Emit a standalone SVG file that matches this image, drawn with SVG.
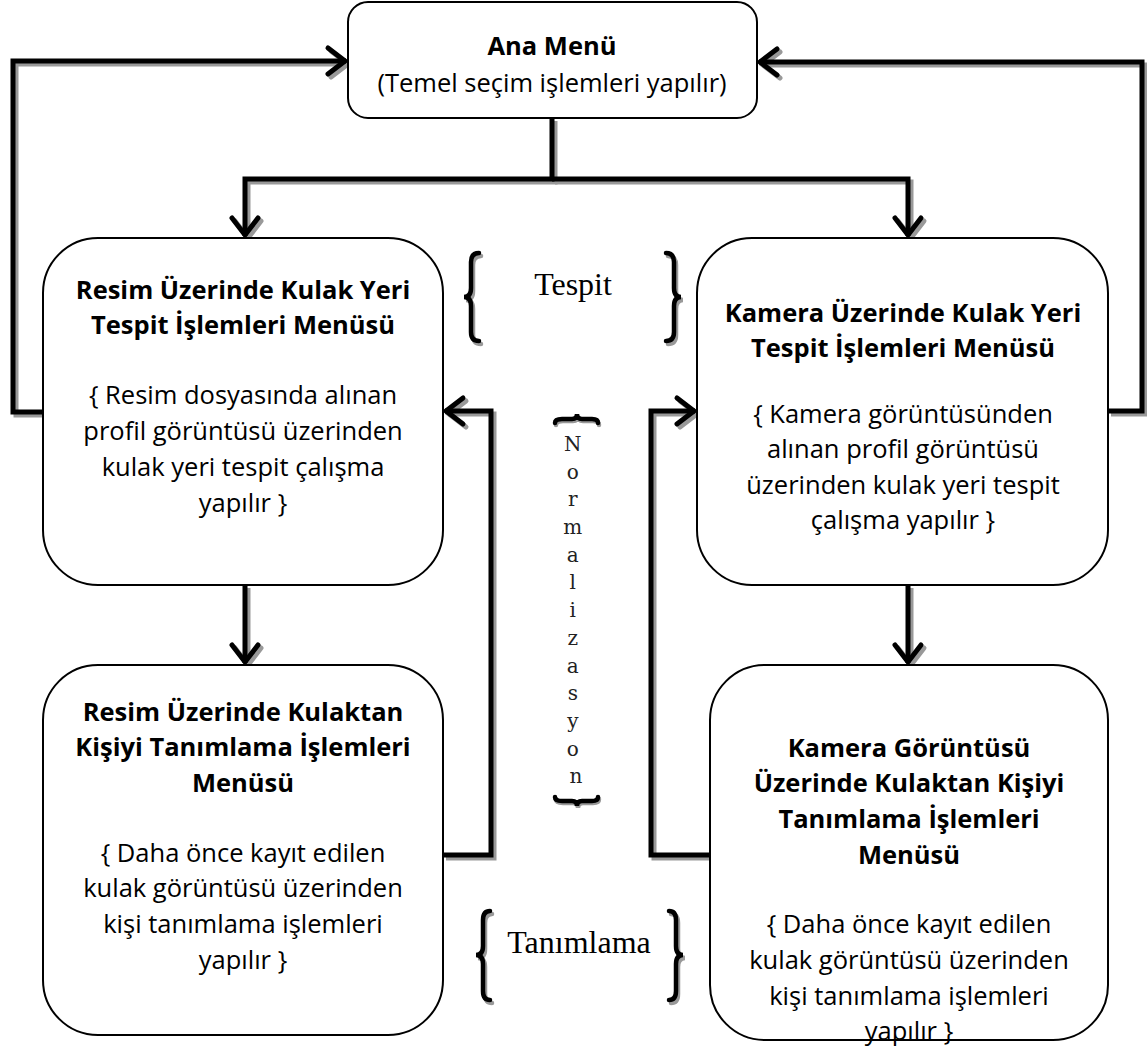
<svg xmlns="http://www.w3.org/2000/svg" width="1147" height="1050" viewBox="0 0 1147 1050">
<style>
.box{fill:#fff;stroke:#000;stroke-width:2}
.t{font-family:"Open Sans","Liberation Sans",sans-serif;font-size:25.5px;fill:#000;text-anchor:middle}
.b{font-weight:bold}
.c{fill:none;stroke:#000;stroke-width:5;stroke-linejoin:miter}
.cs{fill:none;stroke:#999;stroke-width:5;stroke-linejoin:miter}
.br{fill:none;stroke:#000;stroke-width:4.5;stroke-linecap:round}
.brs{fill:none;stroke:#999;stroke-width:4.5;stroke-linecap:round}
.ser{font-family:"Liberation Serif",serif;font-size:32px;fill:#000;text-anchor:middle}
.mono{font-family:"DejaVu Serif","Liberation Serif",serif;font-size:20px;fill:#222;text-anchor:middle}
</style>
<defs>
<marker id="a" markerUnits="userSpaceOnUse" markerWidth="40" markerHeight="40" viewBox="-25 -20 30 40" refX="0" refY="0" orient="auto">
<path d="M-18,-13 L-1,0 L-18,13" fill="none" stroke="#000" stroke-width="5" stroke-linecap="round"/>
</marker>
<marker id="as" markerUnits="userSpaceOnUse" markerWidth="40" markerHeight="40" viewBox="-25 -20 30 40" refX="0" refY="0" orient="auto">
<path d="M-18,-13 L-1,0 L-18,13" fill="none" stroke="#999" stroke-width="5" stroke-linecap="round"/>
</marker>
</defs>
<rect width="1147" height="1050" fill="#fff"/>

<g id="connectors">
<g transform="translate(3,3)">
<path class="cs" d="M552,118 V179 H245 V236" marker-end="url(#as)"/>
<path class="cs" d="M552,179 H908 V236" marker-end="url(#as)"/>
<path class="cs" d="M43,412 H13 V61 H346" marker-end="url(#as)"/>
<path class="cs" d="M1108,411 H1142 V62 H759" marker-end="url(#as)"/>
<path class="cs" d="M245,585 V663" marker-end="url(#as)"/>
<path class="cs" d="M908,585 V663" marker-end="url(#as)"/>
<path class="cs" d="M443,855 H491 V411 H445" marker-end="url(#as)"/>
<path class="cs" d="M710,855 H651 V411 H695" marker-end="url(#as)"/>
</g>
<path class="c" d="M552,118 V179 H245 V236" marker-end="url(#a)"/>
<path class="c" d="M552,179 H908 V236" marker-end="url(#a)"/>
<path class="c" d="M43,412 H13 V61 H346" marker-end="url(#a)"/>
<path class="c" d="M1108,411 H1142 V62 H759" marker-end="url(#a)"/>
<path class="c" d="M245,585 V663" marker-end="url(#a)"/>
<path class="c" d="M908,585 V663" marker-end="url(#a)"/>
<path class="c" d="M443,855 H491 V411 H445" marker-end="url(#a)"/>
<path class="c" d="M710,855 H651 V411 H695" marker-end="url(#a)"/>
</g>

<g id="ana-menu">
<rect class="box" x="348" y="2" width="409" height="116" rx="20"/>
<text class="t b" x="552" y="55">Ana Menü</text>
<text class="t" x="552" y="92">(Temel seçim işlemleri yapılır)</text>
</g>

<g id="resim-tespit">
<rect class="box" x="43" y="238" width="400" height="347" rx="55"/>
<text class="t b" x="243" y="299">Resim Üzerinde Kulak Yeri</text>
<text class="t b" x="243" y="334">Tespit İşlemleri Menüsü</text>
<text class="t" x="243" y="404">{ Resim dosyasında alınan</text>
<text class="t" x="243" y="440">profil görüntüsü üzerinden</text>
<text class="t" x="243" y="476">kulak yeri tespit çalışma</text>
<text class="t" x="243" y="512">yapılır }</text>
</g>

<g id="kamera-tespit">
<rect class="box" x="697" y="238" width="411" height="347" rx="55"/>
<text class="t b" x="903" y="322">Kamera Üzerinde Kulak Yeri</text>
<text class="t b" x="903" y="357">Tespit İşlemleri Menüsü</text>
<text class="t" x="903" y="423">{ Kamera görüntüsünden</text>
<text class="t" x="903" y="458">alınan profil görüntüsü</text>
<text class="t" x="903" y="494">üzerinden kulak yeri tespit</text>
<text class="t" x="903" y="529">çalışma yapılır }</text>
</g>

<g id="resim-tanimlama">
<rect class="box" x="43" y="665" width="400" height="370" rx="55"/>
<text class="t b" x="243" y="721">Resim Üzerinde Kulaktan</text>
<text class="t b" x="243" y="756">Kişiyi Tanımlama İşlemleri</text>
<text class="t b" x="243" y="792">Menüsü</text>
<text class="t" x="243" y="862">{ Daha önce kayıt edilen</text>
<text class="t" x="243" y="897">kulak görüntüsü üzerinden</text>
<text class="t" x="243" y="933">kişi tanımlama işlemleri</text>
<text class="t" x="243" y="969">yapılır }</text>
</g>

<g id="kamera-tanimlama">
<rect class="box" x="710" y="665" width="398" height="375" rx="55"/>
<text class="t b" x="909" y="757">Kamera Görüntüsü</text>
<text class="t b" x="909" y="792">Üzerinde Kulaktan Kişiyi</text>
<text class="t b" x="909" y="828">Tanımlama İşlemleri</text>
<text class="t b" x="909" y="864">Menüsü</text>
<text class="t" x="909" y="933">{ Daha önce kayıt edilen</text>
<text class="t" x="909" y="969">kulak görüntüsü üzerinden</text>
<text class="t" x="909" y="1005">kişi tanımlama işlemleri</text>
<text class="t" x="909" y="1040">yapılır }</text>
</g>

<g id="tespit-label">
<g transform="translate(2,3)">
<path class="brs" d="M479,253 Q471,253 471,262 L471,288 Q471,297 464,297 Q471,297 471,306 L471,332 Q471,341 479,341"/>
<path class="brs" d="M666,253 Q674,253 674,262 L674,288 Q674,297 681,297 Q674,297 674,306 L674,332 Q674,341 666,341"/>
</g>
<path class="br" d="M479,253 Q471,253 471,262 L471,288 Q471,297 464,297 Q471,297 471,306 L471,332 Q471,341 479,341"/>
<path class="br" d="M666,253 Q674,253 674,262 L674,288 Q674,297 681,297 Q674,297 674,306 L674,332 Q674,341 666,341"/>
<text class="ser" x="573" y="295">Tespit</text>
</g>

<g id="tanimlama-label">
<g transform="translate(2,3)">
<path class="brs" d="M490,911 Q483,911 483,920 L483,946 Q483,955 476,955 Q483,955 483,964 L483,991 Q483,1000 490,1000"/>
<path class="brs" d="M669,911 Q676,911 676,920 L676,946 Q676,955 683,955 Q676,955 676,964 L676,991 Q676,1000 669,1000"/>
</g>
<path class="br" d="M490,911 Q483,911 483,920 L483,946 Q483,955 476,955 Q483,955 483,964 L483,991 Q483,1000 490,1000"/>
<path class="br" d="M669,911 Q676,911 676,920 L676,946 Q676,955 683,955 Q676,955 676,964 L676,991 Q676,1000 669,1000"/>
<text class="ser" x="579" y="953">Tanımlama</text>
</g>

<g id="normalizasyon-label">
<g transform="translate(1,2)">
<path class="brs" d="M555,423 Q555,419 562,419 L572,419 Q577,419 577,414 Q577,419 582,419 L592,419 Q598,419 598,423"/>
<path class="brs" d="M555,797 Q555,801 562,801 L572,801 Q577,801 577,806 Q577,801 582,801 L592,801 Q598,801 598,797"/>
</g>
<path class="br" d="M555,423 Q555,419 562,419 L572,419 Q577,419 577,414 Q577,419 582,419 L592,419 Q598,419 598,423"/>
<path class="br" d="M555,797 Q555,801 562,801 L572,801 Q577,801 577,806 Q577,801 582,801 L592,801 Q598,801 598,797"/>
<text class="mono" x="576">
<tspan x="576" y="451">N</tspan>
<tspan x="576" y="479">o</tspan>
<tspan x="576" y="506">r</tspan>
<tspan x="576" y="534">m</tspan>
<tspan x="576" y="562">a</tspan>
<tspan x="576" y="589">l</tspan>
<tspan x="576" y="617">i</tspan>
<tspan x="576" y="645">z</tspan>
<tspan x="576" y="673">a</tspan>
<tspan x="576" y="700">s</tspan>
<tspan x="576" y="728">y</tspan>
<tspan x="576" y="756">o</tspan>
<tspan x="576" y="783">n</tspan>
</text>
</g>
</svg>
